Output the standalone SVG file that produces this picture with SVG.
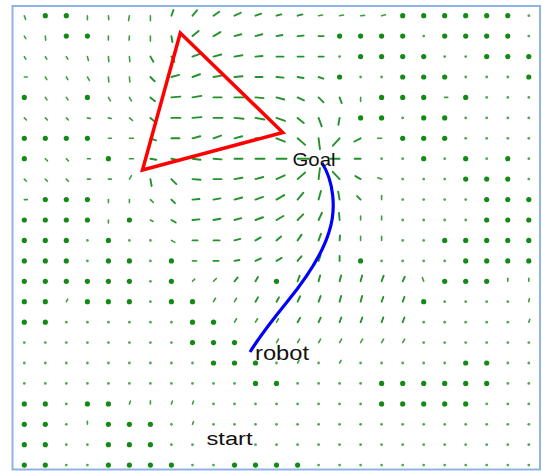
<svg xmlns="http://www.w3.org/2000/svg" xmlns:xlink="http://www.w3.org/1999/xlink" width="542" height="471" viewBox="0 0 542 471">
<style>
.a{stroke:#23922a;stroke-width:1.9;stroke-linecap:round;fill:none}
.t{stroke:#3a9f3a;stroke-width:1.6;stroke-linecap:round;fill:none}
.lbl{font-family:"Liberation Sans",Arial,sans-serif;fill:#111111}
</style>
<defs>
<circle id="D" r="2.6" fill="#128a14"/>
<circle id="d" r="1.4" fill="#52a852"/>
</defs>
<rect width="542" height="471" fill="#ffffff"/>
<rect id="frame" x="12.5" y="6" width="527.5" height="463.5" fill="none" stroke="#8db4e2" stroke-width="2"/>
<g id="field">
<g transform="translate(0,15.7)">
<line class="t" x2="4" transform="translate(24.3 0) rotate(70)"/>
<use href="#D" x="45.3"/><use href="#D" x="66.3"/>
<line class="t" x2="4" transform="translate(87.4 0) rotate(90)"/>
<line class="t" x2="4" transform="translate(108.4 0) rotate(85)"/>
<line class="t" x2="5" transform="translate(129.4 0) rotate(100)"/>
<line class="t" x2="5" transform="translate(150.4 0) rotate(90)"/>
<line class="a" x2="6" transform="translate(171.4 0) rotate(-70)"/>
<line class="a" x2="7" transform="translate(192.5 0) rotate(-50)"/>
<line class="a" x2="7" transform="translate(213.5 0) rotate(-35)"/>
<line class="a" x2="7" transform="translate(234.5 0) rotate(-25)"/>
<line class="a" x2="6" transform="translate(255.5 0) rotate(-20)"/>
<line class="a" x2="5" transform="translate(276.5 0) rotate(-15)"/>
<line class="a" x2="5" transform="translate(297.6 0) rotate(-15)"/>
<line class="t" x2="4" transform="translate(318.6 0) rotate(-10)"/>
<line class="t" x2="4" transform="translate(339.6 0) rotate(-10)"/>
<line class="t" x2="4" transform="translate(360.6 0) rotate(-5)"/>
<line class="t" x2="4" transform="translate(381.6 0) rotate(-15)"/>
<use href="#D" x="402.7"/><use href="#D" x="423.7"/><use href="#D" x="444.7"/><use href="#D" x="465.7"/><use href="#D" x="486.7"/><use href="#D" x="507.8"/><use href="#d" x="528.8"/>
</g>
<g transform="translate(0,36.1)">
<line class="t" x2="3" transform="translate(24.3 0) rotate(60)"/>
<line class="t" x2="4" transform="translate(45.3 0) rotate(85)"/>
<use href="#D" x="66.3"/><use href="#D" x="87.4"/>
<line class="t" x2="4" transform="translate(108.4 0) rotate(90)"/>
<line class="t" x2="4" transform="translate(129.4 0) rotate(95)"/>
<line class="t" x2="5" transform="translate(150.4 0) rotate(90)"/>
<line class="a" x2="6" transform="translate(171.4 0) rotate(80)"/>
<line class="a" x2="8" transform="translate(192.5 0) rotate(-40)"/>
<line class="a" x2="8" transform="translate(213.5 0) rotate(-30)"/>
<line class="a" x2="7" transform="translate(234.5 0) rotate(-15)"/>
<line class="a" x2="7" transform="translate(255.5 0) rotate(-15)"/>
<line class="a" x2="6" transform="translate(276.5 0) rotate(-10)"/>
<line class="a" x2="6" transform="translate(297.6 0) rotate(-5)"/>
<line class="a" x2="5" transform="translate(318.6 0)"/>
<use href="#D" x="339.6"/><use href="#D" x="360.6"/><use href="#D" x="381.6"/><use href="#D" x="402.7"/><use href="#d" x="423.7"/><use href="#D" x="444.7"/><use href="#D" x="465.7"/><use href="#D" x="486.7"/><use href="#D" x="507.8"/><use href="#d" x="528.8"/>
</g>
<g transform="translate(0,56.6)">
<line class="t" x2="3" transform="translate(24.3 0) rotate(60)"/>
<line class="t" x2="3" transform="translate(45.3 0) rotate(60)"/>
<line class="t" x2="3" transform="translate(66.3 0) rotate(60)"/>
<line class="t" x2="4" transform="translate(87.4 0) rotate(75)"/>
<line class="t" x2="5" transform="translate(108.4 0) rotate(85)"/>
<line class="t" x2="5" transform="translate(129.4 0) rotate(85)"/>
<line class="a" x2="6" transform="translate(150.4 0) rotate(60)"/>
<line class="a" x2="6" transform="translate(171.4 0) rotate(60)"/>
<line class="a" x2="8" transform="translate(192.5 0) rotate(-20)"/>
<line class="a" x2="8" transform="translate(213.5 0) rotate(-15)"/>
<line class="a" x2="8" transform="translate(234.5 0) rotate(-10)"/>
<line class="a" x2="7" transform="translate(255.5 0) rotate(-5)"/>
<line class="a" x2="7" transform="translate(276.5 0)"/>
<line class="a" x2="6" transform="translate(297.6 0)"/>
<line class="a" x2="5" transform="translate(318.6 0)"/>
<use href="#d" x="339.6"/><use href="#D" x="360.6"/><use href="#D" x="381.6"/><use href="#D" x="402.7"/><use href="#D" x="423.7"/><use href="#d" x="444.7"/><use href="#d" x="465.7"/><use href="#D" x="486.7"/><use href="#D" x="507.8"/><use href="#D" x="528.8"/>
</g>
<g transform="translate(0,77)">
<line class="t" x2="3" transform="translate(24.3 0)"/>
<line class="t" x2="3" transform="translate(45.3 0) rotate(60)"/>
<line class="t" x2="3" transform="translate(66.3 0) rotate(60)"/>
<line class="t" x2="4" transform="translate(87.4 0) rotate(60)"/>
<line class="t" x2="5" transform="translate(108.4 0) rotate(85)"/>
<line class="t" x2="5" transform="translate(129.4 0) rotate(85)"/>
<line class="a" x2="6" transform="translate(150.4 0) rotate(45)"/>
<line class="a" x2="8" transform="translate(171.4 0) rotate(-15)"/>
<line class="a" x2="8" transform="translate(192.5 0) rotate(-20)"/>
<line class="a" x2="8" transform="translate(213.5 0) rotate(-10)"/>
<line class="a" x2="8" transform="translate(234.5 0) rotate(-5)"/>
<line class="a" x2="7" transform="translate(255.5 0)"/>
<line class="a" x2="7" transform="translate(276.5 0) rotate(5)"/>
<line class="a" x2="6" transform="translate(297.6 0) rotate(10)"/>
<line class="a" x2="5" transform="translate(318.6 0) rotate(20)"/>
<use href="#D" x="339.6"/><use href="#d" x="360.6"/><use href="#d" x="381.6"/><use href="#D" x="402.7"/><use href="#D" x="423.7"/><use href="#D" x="444.7"/><use href="#d" x="465.7"/><use href="#d" x="486.7"/><use href="#d" x="507.8"/><use href="#D" x="528.8"/>
</g>
<g transform="translate(0,97.4)">
<use href="#D" x="24.3"/>
<line class="t" x2="3" transform="translate(45.3 0) rotate(55)"/>
<line class="t" x2="3" transform="translate(66.3 0) rotate(55)"/>
<use href="#D" x="87.4"/>
<line class="t" x2="4" transform="translate(108.4 0) rotate(60)"/>
<line class="t" x2="4" transform="translate(129.4 0) rotate(60)"/>
<line class="a" x2="6" transform="translate(150.4 0) rotate(40)"/>
<line class="a" x2="9" transform="translate(171.4 0) rotate(-5)"/>
<line class="a" x2="9" transform="translate(192.5 0) rotate(-10)"/>
<line class="a" x2="8" transform="translate(213.5 0)"/>
<line class="a" x2="9" transform="translate(234.5 0)"/>
<line class="a" x2="8" transform="translate(255.5 0) rotate(5)"/>
<line class="a" x2="8" transform="translate(276.5 0) rotate(15)"/>
<line class="a" x2="7" transform="translate(297.6 0) rotate(25)"/>
<line class="a" x2="7" transform="translate(318.6 0) rotate(45)"/>
<line class="a" x2="6" transform="translate(339.6 0) rotate(70)"/>
<line class="t" x2="4" transform="translate(360.6 0) rotate(90)"/>
<use href="#D" x="381.6"/><use href="#D" x="402.7"/><use href="#D" x="423.7"/>
<line class="t" x2="3" transform="translate(444.7 0)"/>
<use href="#D" x="465.7"/><use href="#d" x="486.7"/><use href="#d" x="507.8"/><use href="#d" x="528.8"/>
</g>
<g transform="translate(0,117.9)">
<line class="t" x2="3" transform="translate(24.3 0) rotate(45)"/>
<line class="t" x2="3" transform="translate(45.3 0) rotate(45)"/>
<line class="t" x2="3" transform="translate(66.3 0) rotate(45)"/>
<line class="t" x2="3" transform="translate(87.4 0) rotate(10)"/>
<line class="t" x2="3" transform="translate(108.4 0) rotate(10)"/>
<line class="t" x2="4" transform="translate(129.4 0) rotate(40)"/>
<line class="a" x2="6" transform="translate(150.4 0) rotate(40)"/>
<line class="a" x2="9" transform="translate(171.4 0)"/>
<line class="a" x2="9" transform="translate(192.5 0) rotate(-5)"/>
<line class="a" x2="9" transform="translate(213.5 0)"/>
<line class="a" x2="9" transform="translate(234.5 0) rotate(5)"/>
<line class="a" x2="9" transform="translate(255.5 0) rotate(10)"/>
<line class="a" x2="9" transform="translate(276.5 0) rotate(20)"/>
<line class="a" x2="8" transform="translate(297.6 0) rotate(40)"/>
<line class="a" x2="9" transform="translate(318.6 0) rotate(70)"/>
<line class="a" x2="7" transform="translate(339.6 0) rotate(100)"/>
<use href="#D" x="360.6"/><use href="#D" x="381.6"/><use href="#d" x="402.7"/><use href="#D" x="423.7"/><use href="#D" x="444.7"/><use href="#d" x="465.7"/><use href="#d" x="486.7"/><use href="#d" x="507.8"/><use href="#d" x="528.8"/>
</g>
<g transform="translate(0,138.3)">
<use href="#D" x="24.3"/><use href="#D" x="45.3"/><use href="#D" x="66.3"/><use href="#D" x="87.4"/>
<line class="t" x2="3" transform="translate(108.4 0)"/>
<line class="t" x2="4" transform="translate(129.4 0)"/>
<line class="a" x2="6" transform="translate(150.4 0) rotate(20)"/>
<line class="a" x2="8" transform="translate(171.4 0)"/>
<line class="a" x2="8" transform="translate(192.5 0) rotate(-15)"/>
<line class="a" x2="8" transform="translate(213.5 0) rotate(-20)"/>
<line class="a" x2="8" transform="translate(234.5 0) rotate(-15)"/>
<line class="a" x2="8" transform="translate(255.5 0)"/>
<line class="a" x2="9" transform="translate(276.5 0) rotate(22)"/>
<line class="a" x2="10" transform="translate(297.6 0) rotate(41)"/>
<line class="a" x2="11" transform="translate(318.6 0) rotate(83)"/>
<line class="a" x2="10" transform="translate(339.6 0) rotate(132)"/>
<line class="a" x2="7" transform="translate(360.6 0) rotate(153)"/>
<line class="t" x2="4" transform="translate(381.6 0) rotate(180)"/>
<use href="#D" x="402.7"/><use href="#D" x="423.7"/><use href="#D" x="444.7"/><use href="#d" x="465.7"/><use href="#d" x="486.7"/><use href="#d" x="507.8"/><use href="#d" x="528.8"/>
</g>
<g transform="translate(0,158.7)">
<use href="#D" x="24.3"/>
<line class="t" x2="3" transform="translate(45.3 0) rotate(45)"/>
<line class="t" x2="3" transform="translate(66.3 0) rotate(45)"/>
<line class="t" x2="3" transform="translate(87.4 0)"/>
<use href="#D" x="108.4"/>
<line class="t" x2="4" transform="translate(129.4 0)"/>
<line class="a" x2="6" transform="translate(150.4 0) rotate(10)"/>
<line class="a" x2="8" transform="translate(171.4 0) rotate(10)"/>
<line class="a" x2="8" transform="translate(192.5 0) rotate(8)"/>
<line class="a" x2="8" transform="translate(213.5 0) rotate(5)"/>
<line class="a" x2="8" transform="translate(234.5 0)"/>
<line class="a" x2="9" transform="translate(255.5 0)"/>
<line class="a" x2="10" transform="translate(276.5 0)"/>
<line class="a" x2="11" transform="translate(297.6 0)"/>
<line class="a" x2="9" transform="translate(339.6 0) rotate(180)"/>
<line class="a" x2="6" transform="translate(360.6 0) rotate(180)"/>
<use href="#d" x="381.6"/><use href="#d" x="402.7"/><use href="#D" x="423.7"/><use href="#d" x="444.7"/><use href="#D" x="465.7"/><use href="#d" x="486.7"/><use href="#D" x="507.8"/><use href="#d" x="528.8"/>
</g>
<g transform="translate(0,179.1)">
<line class="t" x2="3" transform="translate(24.3 0) rotate(45)"/>
<line class="t" x2="3" transform="translate(45.3 0) rotate(45)"/>
<line class="t" x2="3" transform="translate(66.3 0) rotate(45)"/>
<line class="t" x2="3" transform="translate(87.4 0)"/>
<line class="t" x2="3" transform="translate(108.4 0)"/>
<line class="t" x2="4" transform="translate(129.4 0) rotate(-60)"/>
<line class="a" x2="7" transform="translate(150.4 0) rotate(80)"/>
<line class="a" x2="7" transform="translate(171.4 0) rotate(45)"/>
<line class="a" x2="8" transform="translate(192.5 0) rotate(5)"/>
<line class="a" x2="8" transform="translate(213.5 0)"/>
<line class="a" x2="8" transform="translate(234.5 0) rotate(-10)"/>
<line class="a" x2="8" transform="translate(255.5 0) rotate(-15)"/>
<line class="a" x2="9" transform="translate(276.5 0) rotate(-25)"/>
<line class="a" x2="10" transform="translate(297.6 0) rotate(-41)"/>
<line class="a" x2="11" transform="translate(318.6 0) rotate(-83)"/>
<line class="a" x2="10" transform="translate(339.6 0) rotate(-133)"/>
<line class="a" x2="6" transform="translate(360.6 0) rotate(-150)"/>
<line class="t" x2="4" transform="translate(381.6 0) rotate(-160)"/>
<use href="#d" x="402.7"/><use href="#d" x="423.7"/><use href="#d" x="444.7"/><use href="#D" x="465.7"/><use href="#D" x="486.7"/><use href="#D" x="507.8"/><use href="#d" x="528.8"/>
</g>
<g transform="translate(0,199.6)">
<line class="t" x2="3" transform="translate(24.3 0)"/>
<use href="#D" x="45.3"/><use href="#D" x="66.3"/><use href="#D" x="87.4"/>
<line class="t" x2="3" transform="translate(108.4 0) rotate(90)"/>
<line class="t" x2="3" transform="translate(129.4 0) rotate(90)"/>
<line class="t" x2="4" transform="translate(150.4 0) rotate(45)"/>
<line class="a" x2="5" transform="translate(171.4 0) rotate(45)"/>
<line class="a" x2="7" transform="translate(192.5 0) rotate(-5)"/>
<line class="a" x2="7" transform="translate(213.5 0) rotate(-10)"/>
<line class="a" x2="8" transform="translate(234.5 0) rotate(-15)"/>
<line class="a" x2="8" transform="translate(255.5 0) rotate(-20)"/>
<line class="a" x2="9" transform="translate(276.5 0) rotate(-30)"/>
<line class="a" x2="9" transform="translate(297.6 0) rotate(-50)"/>
<line class="a" x2="9" transform="translate(318.6 0) rotate(-75)"/>
<line class="a" x2="8" transform="translate(339.6 0) rotate(-100)"/>
<line class="a" x2="5" transform="translate(360.6 0) rotate(-135)"/>
<line class="t" x2="4" transform="translate(381.6 0) rotate(-90)"/>
<use href="#d" x="402.7"/><use href="#d" x="423.7"/><use href="#d" x="444.7"/><use href="#d" x="465.7"/><use href="#D" x="486.7"/><use href="#D" x="507.8"/><use href="#D" x="528.8"/>
</g>
<g transform="translate(0,220)">
<use href="#D" x="24.3"/><use href="#D" x="45.3"/><use href="#D" x="66.3"/><use href="#D" x="87.4"/>
<line class="t" x2="3" transform="translate(108.4 0) rotate(90)"/>
<use href="#D" x="129.4"/>
<line class="t" x2="3" transform="translate(150.4 0) rotate(30)"/>
<line class="a" x2="5" transform="translate(171.4 0) rotate(30)"/>
<line class="a" x2="7" transform="translate(192.5 0) rotate(-5)"/>
<line class="a" x2="7" transform="translate(213.5 0) rotate(-10)"/>
<line class="a" x2="7" transform="translate(234.5 0) rotate(-15)"/>
<line class="a" x2="8" transform="translate(255.5 0) rotate(-20)"/>
<line class="a" x2="8" transform="translate(276.5 0) rotate(-30)"/>
<line class="a" x2="8" transform="translate(297.6 0) rotate(-45)"/>
<line class="a" x2="8" transform="translate(318.6 0) rotate(-65)"/>
<line class="a" x2="7" transform="translate(339.6 0) rotate(-95)"/>
<line class="t" x2="4" transform="translate(360.6 0) rotate(-90)"/>
<line class="t" x2="4" transform="translate(381.6 0) rotate(-90)"/>
<use href="#d" x="402.7"/><use href="#d" x="423.7"/><use href="#d" x="444.7"/><use href="#d" x="465.7"/><use href="#D" x="486.7"/><use href="#D" x="507.8"/><use href="#D" x="528.8"/>
</g>
<g transform="translate(0,240.4)">
<use href="#D" x="24.3"/><use href="#D" x="45.3"/><use href="#D" x="66.3"/><use href="#d" x="87.4"/><use href="#D" x="108.4"/><use href="#d" x="129.4"/><use href="#d" x="150.4"/>
<line class="t" x2="4" transform="translate(171.4 0) rotate(30)"/>
<line class="a" x2="5" transform="translate(192.5 0)"/>
<line class="a" x2="6" transform="translate(213.5 0)"/>
<line class="a" x2="6" transform="translate(234.5 0) rotate(-15)"/>
<line class="a" x2="6" transform="translate(255.5 0) rotate(-30)"/>
<line class="a" x2="6" transform="translate(276.5 0) rotate(-40)"/>
<line class="a" x2="7" transform="translate(297.6 0) rotate(-55)"/>
<line class="a" x2="7" transform="translate(318.6 0) rotate(-70)"/>
<line class="a" x2="5" transform="translate(339.6 0) rotate(-85)"/>
<line class="t" x2="4" transform="translate(360.6 0) rotate(-90)"/>
<line class="t" x2="4" transform="translate(381.6 0) rotate(-90)"/>
<use href="#d" x="402.7"/><use href="#d" x="423.7"/><use href="#D" x="444.7"/><use href="#D" x="465.7"/><use href="#D" x="486.7"/><use href="#D" x="507.8"/><use href="#D" x="528.8"/>
</g>
<g transform="translate(0,260.9)">
<use href="#D" x="24.3"/><use href="#D" x="45.3"/><use href="#D" x="66.3"/><use href="#d" x="87.4"/><use href="#D" x="108.4"/><use href="#D" x="129.4"/><use href="#d" x="150.4"/><use href="#D" x="171.4"/>
<line class="t" x2="4" transform="translate(192.5 0)"/>
<line class="a" x2="5" transform="translate(213.5 0)"/>
<line class="a" x2="5" transform="translate(234.5 0) rotate(-10)"/>
<line class="a" x2="6" transform="translate(255.5 0) rotate(-25)"/>
<line class="a" x2="6" transform="translate(276.5 0) rotate(-30)"/>
<line class="a" x2="6" transform="translate(297.6 0) rotate(-50)"/>
<line class="a" x2="6" transform="translate(318.6 0) rotate(-70)"/>
<line class="a" x2="5" transform="translate(339.6 0) rotate(-90)"/>
<use href="#D" x="360.6"/><use href="#d" x="381.6"/><use href="#d" x="402.7"/><use href="#d" x="423.7"/><use href="#d" x="444.7"/><use href="#D" x="465.7"/><use href="#D" x="486.7"/><use href="#D" x="507.8"/><use href="#D" x="528.8"/>
</g>
<g transform="translate(0,281.3)">
<use href="#D" x="24.3"/><use href="#D" x="45.3"/><use href="#D" x="66.3"/><use href="#D" x="87.4"/><use href="#D" x="108.4"/><use href="#D" x="129.4"/><use href="#d" x="150.4"/><use href="#D" x="171.4"/>
<line class="t" x2="3" transform="translate(192.5 0) rotate(-45)"/>
<line class="t" x2="4" transform="translate(213.5 0) rotate(-45)"/>
<line class="a" x2="5" transform="translate(234.5 0) rotate(-50)"/>
<line class="a" x2="5" transform="translate(255.5 0) rotate(-60)"/>
<use href="#D" x="276.5"/>
<line class="a" x2="6" transform="translate(297.6 0) rotate(-70)"/>
<line class="a" x2="6" transform="translate(318.6 0) rotate(-75)"/>
<line class="a" x2="6" transform="translate(339.6 0) rotate(-75)"/>
<line class="a" x2="6" transform="translate(360.6 0) rotate(-75)"/>
<line class="a" x2="6" transform="translate(381.6 0) rotate(-70)"/>
<line class="a" x2="5" transform="translate(402.7 0) rotate(-65)"/>
<line class="t" x2="4" transform="translate(423.7 0) rotate(-110)"/>
<use href="#D" x="444.7"/><use href="#D" x="465.7"/><use href="#D" x="486.7"/>
<line class="t" x2="3" transform="translate(507.8 0) rotate(-90)"/>
<line class="t" x2="3" transform="translate(528.8 0) rotate(-90)"/>
</g>
<g transform="translate(0,301.7)">
<use href="#D" x="24.3"/><use href="#D" x="45.3"/>
<line class="t" x2="3" transform="translate(66.3 0) rotate(-60)"/>
<use href="#D" x="87.4"/><use href="#D" x="108.4"/><use href="#D" x="129.4"/><use href="#d" x="150.4"/><use href="#D" x="171.4"/><use href="#D" x="192.5"/>
<line class="t" x2="4" transform="translate(213.5 0) rotate(-60)"/>
<line class="t" x2="4" transform="translate(234.5 0) rotate(-60)"/>
<line class="a" x2="5" transform="translate(255.5 0) rotate(-60)"/>
<line class="a" x2="5" transform="translate(276.5 0) rotate(-60)"/>
<line class="a" x2="6" transform="translate(297.6 0) rotate(-65)"/>
<line class="a" x2="6" transform="translate(318.6 0) rotate(-70)"/>
<line class="a" x2="6" transform="translate(339.6 0) rotate(-75)"/>
<line class="a" x2="6" transform="translate(360.6 0) rotate(-75)"/>
<line class="a" x2="5" transform="translate(381.6 0) rotate(-70)"/>
<line class="a" x2="5" transform="translate(402.7 0) rotate(-70)"/>
<use href="#D" x="423.7"/><use href="#d" x="444.7"/><use href="#d" x="465.7"/><use href="#d" x="486.7"/><use href="#d" x="507.8"/>
<line class="t" x2="3" transform="translate(528.8 0) rotate(-80)"/>
</g>
<g transform="translate(0,322.2)">
<use href="#D" x="24.3"/><use href="#D" x="45.3"/><use href="#d" x="66.3"/><use href="#d" x="87.4"/><use href="#d" x="108.4"/><use href="#d" x="129.4"/><use href="#d" x="150.4"/><use href="#d" x="171.4"/><use href="#D" x="192.5"/><use href="#D" x="213.5"/>
<line class="t" x2="4" transform="translate(234.5 0) rotate(-60)"/>
<line class="t" x2="4" transform="translate(255.5 0) rotate(-60)"/>
<line class="t" x2="4" transform="translate(276.5 0) rotate(-60)"/>
<line class="a" x2="5" transform="translate(297.6 0) rotate(-60)"/>
<line class="a" x2="5" transform="translate(318.6 0) rotate(-65)"/>
<line class="a" x2="5" transform="translate(339.6 0) rotate(-70)"/>
<line class="a" x2="5" transform="translate(360.6 0) rotate(-70)"/>
<line class="a" x2="5" transform="translate(381.6 0) rotate(-70)"/>
<line class="a" x2="5" transform="translate(402.7 0) rotate(-70)"/>
<use href="#d" x="423.7"/><use href="#d" x="444.7"/><use href="#d" x="465.7"/><use href="#d" x="486.7"/><use href="#d" x="507.8"/>
<line class="t" x2="3" transform="translate(528.8 0) rotate(-70)"/>
</g>
<g transform="translate(0,342.6)">
<use href="#d" x="24.3"/><use href="#d" x="45.3"/><use href="#d" x="66.3"/><use href="#d" x="87.4"/><use href="#d" x="108.4"/><use href="#d" x="129.4"/><use href="#d" x="150.4"/><use href="#d" x="171.4"/><use href="#D" x="192.5"/><use href="#D" x="213.5"/><use href="#D" x="234.5"/>
<line class="t" x2="3" transform="translate(255.5 0) rotate(-60)"/>
<line class="t" x2="4" transform="translate(276.5 0) rotate(-60)"/>
<line class="t" x2="4" transform="translate(297.6 0) rotate(-60)"/>
<line class="t" x2="4" transform="translate(318.6 0) rotate(-60)"/>
<line class="t" x2="4" transform="translate(339.6 0) rotate(-60)"/>
<line class="t" x2="4" transform="translate(360.6 0) rotate(-60)"/>
<line class="t" x2="4" transform="translate(381.6 0) rotate(-60)"/>
<line class="t" x2="4" transform="translate(402.7 0) rotate(-60)"/>
<use href="#d" x="423.7"/><use href="#d" x="444.7"/><use href="#d" x="465.7"/><use href="#d" x="486.7"/><use href="#d" x="507.8"/><use href="#d" x="528.8"/>
</g>
<g transform="translate(0,363)">
<use href="#d" x="24.3"/><use href="#d" x="45.3"/><use href="#d" x="66.3"/><use href="#d" x="87.4"/><use href="#d" x="108.4"/><use href="#d" x="129.4"/><use href="#d" x="150.4"/><use href="#d" x="171.4"/><use href="#d" x="192.5"/><use href="#D" x="213.5"/><use href="#D" x="234.5"/><use href="#D" x="255.5"/><use href="#d" x="276.5"/>
<line class="t" x2="3" transform="translate(297.6 0) rotate(-60)"/>
<use href="#d" x="318.6"/>
<line class="t" x2="3" transform="translate(339.6 0) rotate(-60)"/>
<use href="#d" x="360.6"/><use href="#d" x="381.6"/><use href="#d" x="402.7"/><use href="#d" x="423.7"/><use href="#d" x="444.7"/><use href="#D" x="465.7"/><use href="#D" x="486.7"/><use href="#d" x="507.8"/><use href="#d" x="528.8"/>
</g>
<g transform="translate(0,383.4)">
<use href="#d" x="24.3"/><use href="#d" x="45.3"/><use href="#d" x="66.3"/><use href="#d" x="87.4"/><use href="#d" x="108.4"/><use href="#d" x="129.4"/><use href="#d" x="150.4"/><use href="#d" x="171.4"/><use href="#d" x="192.5"/><use href="#d" x="213.5"/><use href="#d" x="234.5"/><use href="#D" x="255.5"/><use href="#D" x="276.5"/><use href="#d" x="297.6"/><use href="#d" x="318.6"/><use href="#d" x="339.6"/><use href="#d" x="360.6"/><use href="#D" x="381.6"/><use href="#D" x="402.7"/><use href="#D" x="423.7"/><use href="#D" x="444.7"/><use href="#D" x="465.7"/><use href="#D" x="486.7"/><use href="#d" x="507.8"/><use href="#d" x="528.8"/>
</g>
<g transform="translate(0,403.9)">
<use href="#D" x="24.3"/><use href="#D" x="45.3"/><use href="#d" x="66.3"/><use href="#D" x="87.4"/><use href="#D" x="108.4"/>
<line class="t" x2="3" transform="translate(129.4 0) rotate(-70)"/>
<line class="t" x2="3" transform="translate(150.4 0) rotate(-90)"/>
<line class="t" x2="3" transform="translate(171.4 0) rotate(-70)"/>
<line class="t" x2="3" transform="translate(192.5 0) rotate(-70)"/>
<use href="#d" x="213.5"/><use href="#d" x="234.5"/><use href="#d" x="255.5"/><use href="#d" x="276.5"/><use href="#d" x="297.6"/><use href="#d" x="318.6"/><use href="#d" x="339.6"/><use href="#d" x="360.6"/><use href="#D" x="381.6"/><use href="#D" x="402.7"/><use href="#D" x="423.7"/><use href="#D" x="444.7"/><use href="#D" x="465.7"/><use href="#d" x="486.7"/><use href="#d" x="507.8"/><use href="#d" x="528.8"/>
</g>
<g transform="translate(0,424.3)">
<use href="#D" x="24.3"/><use href="#D" x="45.3"/><use href="#d" x="66.3"/>
<line class="t" x2="3" transform="translate(87.4 0) rotate(-90)"/>
<use href="#D" x="108.4"/><use href="#D" x="129.4"/><use href="#D" x="150.4"/><use href="#d" x="171.4"/>
<line class="t" x2="3" transform="translate(192.5 0) rotate(-70)"/>
<use href="#d" x="213.5"/><use href="#d" x="234.5"/><use href="#d" x="255.5"/><use href="#d" x="276.5"/><use href="#d" x="297.6"/><use href="#d" x="318.6"/><use href="#d" x="339.6"/><use href="#d" x="360.6"/><use href="#d" x="381.6"/><use href="#d" x="402.7"/><use href="#d" x="423.7"/><use href="#d" x="444.7"/><use href="#d" x="465.7"/><use href="#d" x="486.7"/><use href="#d" x="507.8"/><use href="#d" x="528.8"/>
</g>
<g transform="translate(0,444.7)">
<use href="#D" x="24.3"/><use href="#D" x="45.3"/><use href="#d" x="66.3"/><use href="#d" x="87.4"/><use href="#D" x="108.4"/><use href="#D" x="129.4"/><use href="#D" x="150.4"/><use href="#d" x="171.4"/><use href="#d" x="192.5"/><use href="#d" x="255.5"/><use href="#d" x="276.5"/><use href="#d" x="297.6"/><use href="#d" x="318.6"/><use href="#d" x="339.6"/><use href="#d" x="360.6"/><use href="#d" x="381.6"/><use href="#d" x="402.7"/><use href="#d" x="423.7"/><use href="#d" x="444.7"/><use href="#d" x="465.7"/><use href="#d" x="486.7"/><use href="#d" x="507.8"/><use href="#d" x="528.8"/>
</g>
<g transform="translate(0,465.1)">
<use href="#D" x="24.3"/><use href="#D" x="45.3"/><use href="#d" x="66.3"/><use href="#d" x="87.4"/><use href="#D" x="108.4"/><use href="#D" x="129.4"/><use href="#D" x="150.4"/><use href="#D" x="171.4"/><use href="#d" x="192.5"/><use href="#d" x="213.5"/><use href="#D" x="234.5"/><use href="#D" x="255.5"/><use href="#D" x="276.5"/><use href="#D" x="297.6"/><use href="#d" x="318.6"/><use href="#d" x="339.6"/><use href="#d" x="360.6"/><use href="#d" x="381.6"/><use href="#d" x="402.7"/><use href="#d" x="423.7"/><use href="#d" x="444.7"/><use href="#d" x="465.7"/><use href="#d" x="486.7"/><use href="#d" x="507.8"/><use href="#d" x="528.8"/>
</g>
</g>
<g id="obstacle">
<polygon points="180.3,33 142.5,170 282.8,132.5" fill="none" stroke="#ff0000" stroke-width="3.5" stroke-linejoin="miter"/>
</g>
<g id="path">
<path d="M322,163 C333,180 337,208 329,232 C322,255 305,280 287,302 C274,318 260,336 250,352" fill="none" stroke="#0000ff" stroke-width="3.2"/>
</g>
<g id="labels">
<text class="lbl" x="292.5" y="166" font-size="19" textLength="43" lengthAdjust="spacingAndGlyphs">Goal</text>
<text class="lbl" x="255" y="360" font-size="20" textLength="54" lengthAdjust="spacingAndGlyphs">robot</text>
<text class="lbl" x="206.5" y="444.5" font-size="18" textLength="46" lengthAdjust="spacingAndGlyphs">start</text>
</g>
</svg>
